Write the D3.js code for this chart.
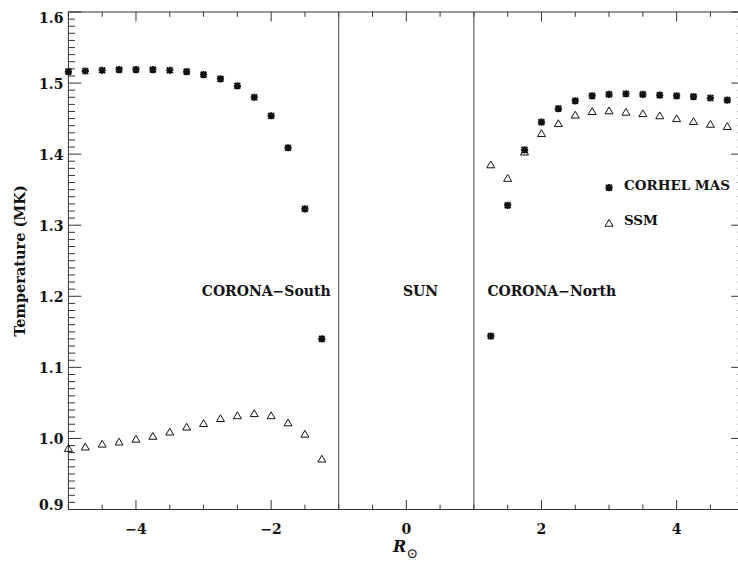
<!DOCTYPE html>
<html>
<head>
<meta charset="utf-8">
<script src="https://cdn.jsdelivr.net/npm/d3@7"></script>
<style>
  html, body { margin: 0; padding: 0; background: #fff; }
  svg { display: block; }
  text { font-family: "DejaVu Serif", serif; fill: #111; }
</style>
</head>
<body>
<div id="chart"></div>
<script>
// ---- data ----
const xSouth = [-5, -4.75, -4.5, -4.25, -4, -3.75, -3.5, -3.25, -3, -2.75, -2.5, -2.25, -2, -1.75, -1.5, -1.25];
const masSouth = [1.516, 1.517, 1.518, 1.519, 1.519, 1.519, 1.518, 1.516, 1.512, 1.506, 1.496, 1.480, 1.454, 1.409, 1.323, 1.140];
const ssmSouth = [0.986, 0.988, 0.992, 0.995, 0.999, 1.003, 1.009, 1.016, 1.021, 1.028, 1.032, 1.035, 1.032, 1.022, 1.006, 0.971];

const xNorth = [1.25, 1.5, 1.75, 2, 2.25, 2.5, 2.75, 3, 3.25, 3.5, 3.75, 4, 4.25, 4.5, 4.75];
const masNorth = [1.144, 1.328, 1.406, 1.445, 1.464, 1.475, 1.482, 1.484, 1.485, 1.484, 1.483, 1.482, 1.481, 1.479, 1.476];
const ssmNorth = [1.385, 1.366, 1.403, 1.429, 1.443, 1.455, 1.460, 1.461, 1.459, 1.457, 1.454, 1.450, 1.446, 1.442, 1.439];

const xTicks = [-4, -2, 0, 2, 4];
const yTicks = [0.9, 1.0, 1.1, 1.2, 1.3, 1.4, 1.5, 1.6];
const boundaries = [-1, 1];
const regionLabels = [
  { text: "CORONA\u2212South", x: -1.12, y: 1.2, anchor: "end" },
  { text: "SUN", x: -0.05, y: 1.2, anchor: "start" },
  { text: "CORONA\u2212North", x: 1.2, y: 1.2, anchor: "start" }
];
const legendItems = [
  { name: "CORHEL MAS", symbol: "asterisk", x: 3.0, y: 1.35 },
  { name: "SSM", symbol: "triangle", x: 3.0, y: 1.30 }
];

// ---- layout ----
const W = 738, H = 563;
const m = { left: 68.4, top: 12, right: 744.2, bottom: 509.5 };

const svg = d3.select("#chart").append("svg").attr("width", W).attr("height", H);

const x = d3.scaleLinear().domain([-5, 5]).range([m.left, m.right]);
const y = d3.scaleLinear().domain([0.9, 1.6]).range([m.bottom, m.top]);

const axisColor = "#333";
const g = svg.append("g");

// frame
g.append("rect").attr("x", m.left).attr("y", m.top)
  .attr("width", m.right - m.left).attr("height", m.bottom - m.top)
  .attr("fill", "none").attr("stroke", axisColor).attr("stroke-width", 1);

// x ticks (bottom & top)
const xMinor = d3.range(-5, 5.001, 0.5);
const xMajLen = 9.5, xMinLen = 4.8;
xMinor.forEach(v => {
  const isMajor = Math.abs(v / 2 - Math.round(v / 2)) < 1e-6;
  const len = isMajor ? xMajLen : xMinLen;
  g.append("line").attr("x1", x(v)).attr("x2", x(v)).attr("y1", m.bottom).attr("y2", m.bottom - len)
    .attr("stroke", axisColor).attr("stroke-width", 1);
  g.append("line").attr("x1", x(v)).attr("x2", x(v)).attr("y1", m.top).attr("y2", m.top + len)
    .attr("stroke", axisColor).attr("stroke-width", 1);
});
// y ticks (left & right)
const yMinor = d3.range(0, 71).map(i => 0.9 + i * 0.01);
const yMajLen = 13, yMinLen = 6.6;
yMinor.forEach((v, i) => {
  const isMajor = i % 10 === 0;
  const len = isMajor ? yMajLen : yMinLen;
  g.append("line").attr("x1", m.left).attr("x2", m.left + len).attr("y1", y(v)).attr("y2", y(v))
    .attr("stroke", axisColor).attr("stroke-width", 1);
  g.append("line").attr("x1", m.right).attr("x2", m.right - len).attr("y1", y(v)).attr("y2", y(v))
    .attr("stroke", axisColor).attr("stroke-width", 1);
});

// tick labels
const fmtX = d => d < 0 ? "\u2212" + Math.abs(d) : String(d);
g.selectAll(".xl").data(xTicks).enter().append("text")
  .attr("x", d => x(d)).attr("y", 533.5)
  .attr("text-anchor", "middle").attr("font-size", 14).attr("font-weight", "bold")
  .text(fmtX);
g.selectAll(".yl").data(yTicks).enter().append("text")
  .attr("x", m.left - 5)
  .attr("y", d => Math.min(Math.max(y(d) + 5.5, 23), 510))
  .attr("text-anchor", "end").attr("font-size", 14).attr("font-weight", "bold")
  .text(d => d.toFixed(1));

// axis titles
svg.append("text")
  .attr("transform", `translate(24.5,261) rotate(-90)`)
  .attr("text-anchor", "middle").attr("font-size", 14.5).attr("font-weight", "bold")
  .text("Temperature (MK)");
const xt = svg.append("text").attr("x", 393).attr("y", 552)
  .attr("font-size", 16).attr("font-weight", "bold");
xt.append("tspan").attr("font-style", "italic").text("R");
xt.append("tspan").attr("dy", 6).attr("font-size", 14).attr("font-weight", "normal").text("\u2299");

// boundaries
g.selectAll(".bnd").data(boundaries).enter().append("line")
  .attr("x1", d => x(d)).attr("x2", d => x(d)).attr("y1", m.top).attr("y2", m.bottom)
  .attr("stroke", "#444").attr("stroke-width", 1);

// region labels
g.selectAll(".rl").data(regionLabels).enter().append("text")
  .attr("x", d => x(d.x)).attr("y", d => y(d.y))
  .attr("text-anchor", d => d.anchor).attr("font-size", 14).attr("font-weight", "bold")
  .text(d => d.text);

// symbols
const r = 3.6;
const asteriskPath = `M${-r},0L${r},0M0,${-r}L0,${r}M${-r*0.8},${-r*0.8}L${r*0.8},${r*0.8}M${-r*0.8},${r*0.8}L${r*0.8},${-r*0.8}`;
const t = 4;
const trianglePath = `M${-t},${t*0.75}L${t},${t*0.75}L0,${-t*0.95}Z`;

function drawAsterisks(xs, ys) {
  g.append("g").selectAll("path").data(xs.map((v, i) => [v, ys[i]])).enter().append("path")
    .attr("transform", d => `translate(${x(d[0])},${y(d[1])})`)
    .attr("d", asteriskPath).attr("stroke", "#111").attr("stroke-width", 2).attr("fill", "none");
}
function drawTriangles(xs, ys) {
  g.append("g").selectAll("path").data(xs.map((v, i) => [v, ys[i]])).enter().append("path")
    .attr("transform", d => `translate(${x(d[0])},${y(d[1])})`)
    .attr("d", trianglePath).attr("stroke", "#111").attr("stroke-width", 1).attr("fill", "none");
}
drawAsterisks(xSouth, masSouth);
drawAsterisks(xNorth, masNorth);
drawTriangles(xSouth, ssmSouth);
drawTriangles(xNorth, ssmNorth);

// legend
legendItems.forEach(it => {
  const p = g.append("path").attr("transform", `translate(${x(it.x)},${y(it.y) - 2})`);
  if (it.symbol === "asterisk") p.attr("d", asteriskPath).attr("stroke", "#111").attr("stroke-width", 2).attr("fill", "none");
  else p.attr("d", trianglePath).attr("stroke", "#111").attr("stroke-width", 1).attr("fill", "none");
  g.append("text").attr("x", x(it.x + 0.22)).attr("y", y(it.y))
    .attr("font-size", 13.5).attr("font-weight", "bold").text(it.name);
});
</script>
</body>
</html>
